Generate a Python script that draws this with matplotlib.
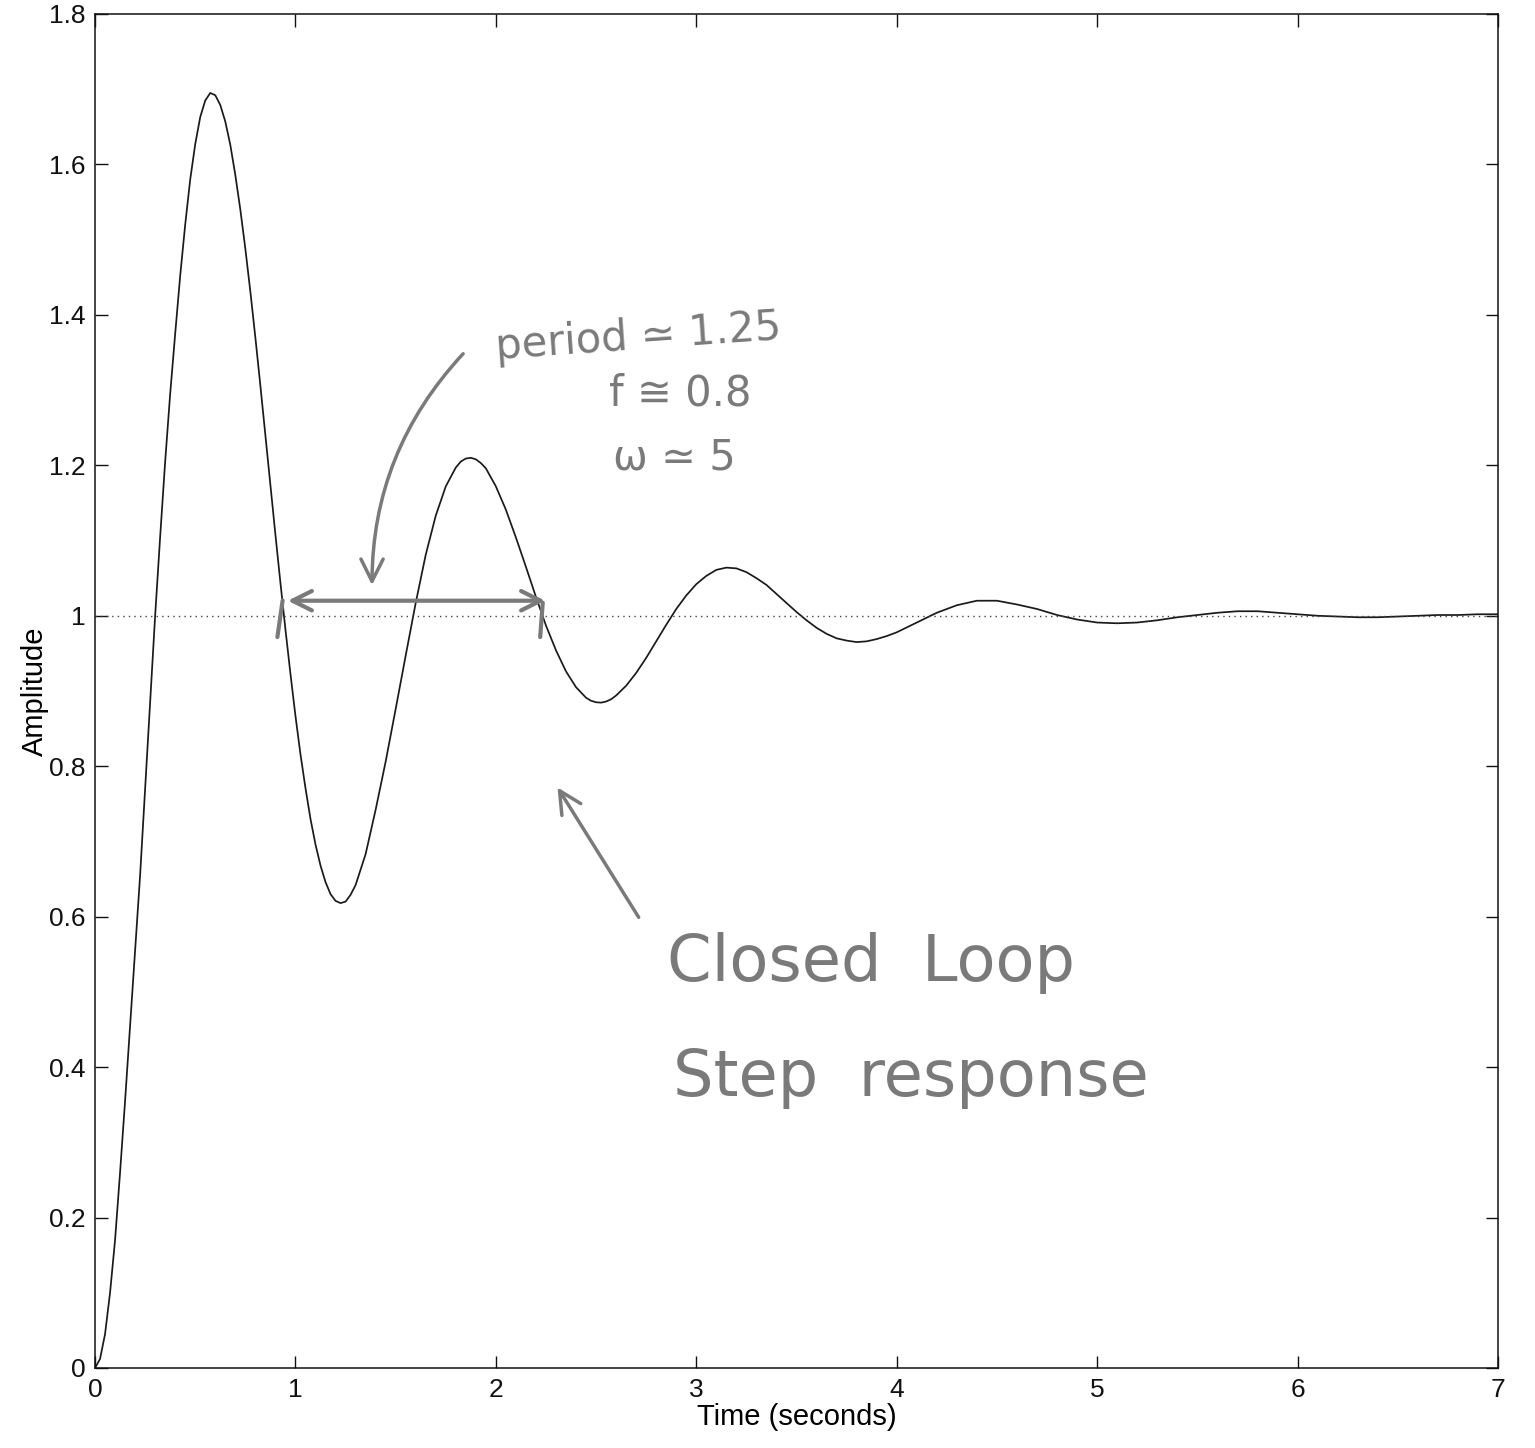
import matplotlib
matplotlib.use('Agg')
import matplotlib.pyplot as plt

# step response (seconds, amplitude)
time = [0.0, 0.025, 0.05, 0.075, 0.1, 0.125, 0.15, 0.175, 0.2, 0.225,
        0.25, 0.275, 0.3, 0.325, 0.35, 0.375, 0.4, 0.425, 0.45, 0.475,
        0.5, 0.525, 0.55, 0.575, 0.6, 0.625, 0.65, 0.675, 0.7, 0.725,
        0.75, 0.775, 0.8, 0.825, 0.85, 0.875, 0.9, 0.925, 0.95, 0.975,
        1.0, 1.025, 1.05, 1.075, 1.1, 1.125, 1.15, 1.175, 1.2, 1.225,
        1.25, 1.275, 1.3, 1.35, 1.4, 1.45, 1.5, 1.55, 1.6, 1.65,
        1.7, 1.75, 1.8, 1.825, 1.85, 1.875, 1.9, 1.925, 1.95, 2.0,
        2.05, 2.1, 2.15, 2.2, 2.25, 2.3, 2.35, 2.4, 2.45, 2.475,
        2.5, 2.525, 2.55, 2.575, 2.6, 2.65, 2.7, 2.75, 2.8, 2.85,
        2.9, 2.95, 3.0, 3.05, 3.1, 3.15, 3.2, 3.25, 3.3, 3.35,
        3.4, 3.45, 3.5, 3.55, 3.6, 3.65, 3.7, 3.75, 3.8, 3.85,
        3.9, 3.95, 4.0, 4.1, 4.2, 4.3, 4.4, 4.5, 4.6, 4.7,
        4.8, 4.9, 5.0, 5.1, 5.2, 5.3, 5.4, 5.5, 5.6, 5.7,
        5.8, 5.9, 6.0, 6.1, 6.2, 6.3, 6.4, 6.5, 6.6, 6.7,
        6.8, 6.9, 7.0]
amplitude = [0.0, 0.012, 0.045, 0.10, 0.17, 0.26, 0.355, 0.455, 0.555, 0.655,
             0.77, 0.885, 1.0, 1.105, 1.205, 1.295, 1.375, 1.452, 1.52, 1.58,
             1.627, 1.663, 1.685, 1.695, 1.692, 1.679, 1.657, 1.626, 1.586, 1.540,
             1.488, 1.431, 1.370, 1.306, 1.240, 1.174, 1.108, 1.044, 0.982, 0.923,
             0.867, 0.816, 0.771, 0.730, 0.696, 0.668, 0.646, 0.630, 0.621, 0.618,
             0.620, 0.629, 0.642, 0.683, 0.742, 0.806, 0.876, 0.947, 1.017, 1.081,
             1.133, 1.172, 1.197, 1.205, 1.209, 1.210, 1.208, 1.203, 1.196, 1.172,
             1.141, 1.104, 1.065, 1.025, 0.987, 0.954, 0.926, 0.905, 0.891, 0.887,
             0.885, 0.8845, 0.886, 0.889, 0.894, 0.907, 0.924, 0.944, 0.966, 0.988,
             1.009, 1.027, 1.042, 1.053, 1.061, 1.064, 1.063, 1.058, 1.050, 1.041,
             1.029, 1.017, 1.005, 0.994, 0.984, 0.976, 0.970, 0.967, 0.965, 0.966,
             0.969, 0.973, 0.978, 0.991, 1.004, 1.014, 1.020, 1.020, 1.015, 1.009,
             1.001, 0.995, 0.991, 0.990, 0.991, 0.994, 0.998, 1.001, 1.004, 1.006,
             1.006, 1.004, 1.002, 1.000, 0.999, 0.998, 0.998, 0.999, 1.000, 1.001,
             1.001, 1.002, 1.002]
steady_state = 1.0

x_ticks = [0, 1, 2, 3, 4, 5, 6, 7]
x_tick_labels = ['0', '1', '2', '3', '4', '5', '6', '7']
y_ticks = [0, 0.2, 0.4, 0.6, 0.8, 1.0, 1.2, 1.4, 1.6, 1.8]
y_tick_labels = ['0', '0.2', '0.4', '0.6', '0.8', '1', '1.2', '1.4', '1.6', '1.8']

# pencil notes written on the printout
period_note = 'period \u2243 1.25'
freq_note = 'f \u2245 0.8'
omega_note = '\u03c9 \u2243 5'
title_note = 'Closed  Loop'
subtitle_note = 'Step  response'

plt.rcParams['font.family'] = ['Liberation Sans', 'DejaVu Sans']

fig = plt.figure(figsize=(15.35, 14.48), dpi=100)
ax = fig.add_axes([0.0619, 0.05525, 0.9140, 0.9351])

ax.plot(time, amplitude, color='#1a1a1a', lw=1.25)
ax.axhline(steady_state, color='#444444', lw=1.0, ls=(0, (1, 3)))

ax.set_xlim(0, 7)
ax.set_ylim(0, 1.8)
ax.set_xticks(x_ticks)
ax.set_xticklabels(x_tick_labels)
ax.set_yticks(y_ticks)
ax.set_yticklabels(y_tick_labels)
ax.tick_params(direction='in', length=9, width=1.0, top=True, right=True,
               labelsize=19, pad=7, colors='#111111')
for spine in ax.spines.values():
    spine.set_linewidth(1.1)
    spine.set_color('#111111')

ax.set_xlabel('Time (seconds)', fontsize=21, labelpad=1)
ax.set_ylabel('Amplitude', fontsize=21, labelpad=0)

# handwritten annotations
pencil = '#7a7a7a'
hand = ['DejaVu Sans']
ax.text(2.71, 1.371, period_note, color=pencil, fontsize=30, family=hand,
        ha='center', va='center', rotation=4)
ax.text(2.92, 1.296, freq_note, color=pencil, fontsize=30, family=hand,
        ha='center', va='center')
ax.text(2.89, 1.210, omega_note, color=pencil, fontsize=30, family=hand,
        ha='center', va='center')
ax.text(3.87, 0.538, title_note, color=pencil, fontsize=46, family=hand,
        ha='center', va='center')
ax.text(4.07, 0.386, subtitle_note, color=pencil, fontsize=46, family=hand,
        ha='center', va='center')

# period marker between the two crossings
ax.annotate('', xy=(0.948, 1.02), xytext=(2.26, 1.02),
            arrowprops=dict(arrowstyle='<->', color=pencil, lw=3,
                            mutation_scale=35))
ax.annotate('', xy=(0.908, 0.968), xytext=(0.938, 1.024),
            arrowprops=dict(arrowstyle='-', color=pencil, lw=3))
ax.annotate('', xy=(2.22, 0.968), xytext=(2.235, 1.021),
            arrowprops=dict(arrowstyle='-', color=pencil, lw=3))
ax.annotate('', xy=(1.382, 1.037), xytext=(1.846, 1.351),
            arrowprops=dict(arrowstyle='->', color=pencil, lw=2.5,
                            mutation_scale=40, connectionstyle='arc3,rad=0.2'))
ax.annotate('', xy=(2.30, 0.775), xytext=(2.72, 0.596),
            arrowprops=dict(arrowstyle='->', color=pencil, lw=2.5,
                            mutation_scale=40))

fig.savefig('out.png', dpi=100)
